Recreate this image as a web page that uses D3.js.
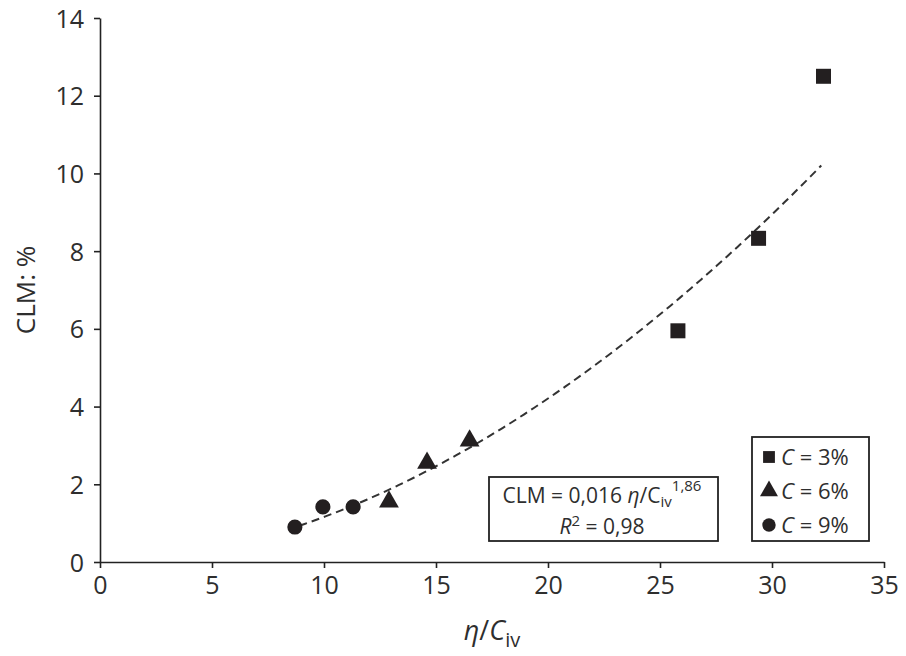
<!DOCTYPE html>
<html>
<head>
<meta charset="utf-8">
<script src="https://cdn.jsdelivr.net/npm/d3@7"></script>
<style>
  body { margin: 0; background: #fff; }
  svg text { font-family: "Open Sans", "Noto Sans", sans-serif; font-weight: 400; fill: #2e2e2e; }
</style>
</head>
<body>
<svg id="chart" width="906" height="656"></svg>
<script>
// Measured points, grouped by concentration C
const seriesNames = ["C = 3%", "C = 6%", "C = 9%"];
const seriesShapes = ["square", "triangle", "circle"];
const xC3 = [25.8, 29.4, 32.3];
const yC3 = [5.95, 8.33, 12.5];
const xC6 = [12.9, 14.6, 16.5];
const yC6 = [1.55, 2.55, 3.12];
const xC9 = [8.7, 9.95, 11.3];
const yC9 = [0.9, 1.42, 1.42];

// Power-law fit CLM = a * (eta/Civ)^b
const fitA = 0.016;
const fitB = 1.86;
const fitR2 = 0.98;
const fitRange = [8.9, 32.2];

const xTicks = [0, 5, 10, 15, 20, 25, 30, 35];
const yTicks = [0, 2, 4, 6, 8, 10, 12, 14];

const svg = d3.select("#chart");
const x = d3.scaleLinear().domain([0, 35]).range([100, 884]);
const y = d3.scaleLinear().domain([0, 14]).range([562, 18]);

// Axes
const xAxis = svg.append("g").attr("transform", `translate(0,${y(0)})`)
  .call(d3.axisBottom(x).tickValues(xTicks).tickSize(6).tickSizeOuter(0).tickPadding(6));
const yAxis = svg.append("g").attr("transform", `translate(${x(0)},0)`)
  .call(d3.axisLeft(y).tickValues(yTicks).tickSize(6).tickSizeOuter(0).tickPadding(10));
[xAxis, yAxis].forEach(g => {
  g.selectAll("path, line").attr("stroke", "#222").attr("stroke-width", 1.6);
  g.selectAll("text").attr("font-size", 25).attr("fill", "#2e2e2e");
});
xAxis.selectAll("text").attr("dy", "0.8em");
yAxis.selectAll("text").attr("dy", "0.36em");

// Axis titles
svg.append("text")
  .attr("transform", `translate(35,${y(7)}) rotate(-90)`)
  .attr("text-anchor", "middle").attr("font-size", 26)
  .text("CLM: %");

const xt = svg.append("text")
  .attr("x", x(17.5)).attr("y", 640)
  .attr("text-anchor", "middle").attr("font-size", 27);
xt.append("tspan").attr("font-style", "italic").text("η");
xt.append("tspan").text("/");
xt.append("tspan").attr("font-style", "italic").text("C");
xt.append("tspan").attr("font-size", 20).attr("dy", 7).text("iv");

// Fit curve
const fitXs = d3.range(0, 101).map(i => fitRange[0] + (fitRange[1] - fitRange[0]) * i / 100);
svg.append("path")
  .datum(fitXs)
  .attr("fill", "none").attr("stroke", "#333").attr("stroke-width", 2)
  .attr("stroke-dasharray", "8,5")
  .attr("d", d3.line().x(d => x(d)).y(d => y(fitA * Math.pow(d, fitB))));

// Markers
const symbolType = { square: d3.symbolSquare, triangle: d3.symbolTriangle, circle: d3.symbolCircle };
const symbolSize = { square: 225, triangle: 170, circle: 180 };
const groups = [[xC3, yC3], [xC6, yC6], [xC9, yC9]];
groups.forEach(([xs, ys], i) => {
  const shape = seriesShapes[i];
  svg.append("g").selectAll("path")
    .data(xs.map((v, j) => [v, ys[j]]))
    .join("path")
    .attr("transform", d => `translate(${x(d[0])},${y(d[1])})`)
    .attr("d", d3.symbol().type(symbolType[shape]).size(symbolSize[shape])())
    .attr("fill", "#231f20");
});

// Equation box
const eq = svg.append("g");
eq.append("rect").attr("x", 489).attr("y", 477).attr("width", 229).attr("height", 64)
  .attr("fill", "#fff").attr("stroke", "#222").attr("stroke-width", 1.8);
const l1 = eq.append("text").attr("x", 602).attr("y", 503).attr("text-anchor", "middle").attr("font-size", 21);
l1.append("tspan").text(`CLM = ${String(fitA).replace(".", ",")} `);
l1.append("tspan").attr("font-style", "italic").text("η");
l1.append("tspan").text("/C");
l1.append("tspan").attr("font-size", 15).attr("dy", 4).text("iv");
l1.append("tspan").attr("font-size", 15).attr("dy", -16).text(String(fitB).replace(".", ","));
const l2 = eq.append("text").attr("x", 602).attr("y", 534).attr("text-anchor", "middle").attr("font-size", 21);
l2.append("tspan").attr("font-style", "italic").text("R");
l2.append("tspan").attr("font-size", 15).attr("dy", -8).text("2");
l2.append("tspan").attr("dy", 8).text(` = ${String(fitR2).replace(".", ",")}`);

// Legend
const lg = svg.append("g");
lg.append("rect").attr("x", 752).attr("y", 437).attr("width", 117).attr("height", 104)
  .attr("fill", "#fff").attr("stroke", "#222").attr("stroke-width", 1.8);
seriesNames.forEach((name, i) => {
  const cy = 457 + i * 34;
  lg.append("path")
    .attr("transform", `translate(769,${cy})`)
    .attr("d", d3.symbol().type(symbolType[seriesShapes[i]]).size(140)())
    .attr("fill", "#231f20");
  const t = lg.append("text").attr("x", 781).attr("y", cy + 8).attr("font-size", 22);
  t.append("tspan").attr("font-style", "italic").text("C");
  t.append("tspan").text(name.slice(1));
});
</script>
</body>
</html>
